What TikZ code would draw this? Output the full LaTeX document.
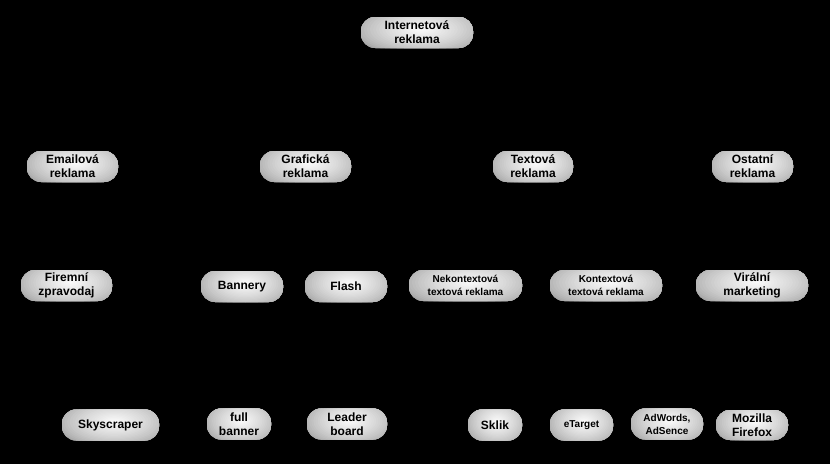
\documentclass[tikz,border=0pt]{standalone}
\usepackage{fontspec}
\setmainfont{Liberation Sans}
\usetikzlibrary{positioning, calc}

\tikzset{
  pill/.style={rounded corners=14pt, minimum height=31pt, inner sep=0pt,
    align=center, font=\bfseries\fontsize{12}{14}\selectfont,
    fill=white!18!gray,
    path picture={
      % radial light spot, drawn as nested ellipses
      \foreach \k in {0,...,23} {
        \pgfmathsetmacro\lite{18+77*(\k/23)^0.6}
        \pgfmathsetmacro\rf{1-\k/24}
        \fill[white!\lite!gray]
          let \p1=($(path picture bounding box.north east)-(path picture bounding box.center)$) in
          ($(path picture bounding box.center)+(0.08*\x1,0.2*\y1)$)
          ellipse [x radius={1.3*\rf*\x1}, y radius={1.8*\rf*\y1}];
      }
    }},
  pillsmall/.style={pill, font=\bfseries\fontsize{10}{13}\selectfont}
}

\begin{document}
\begin{tikzpicture}[x=1pt, y=1pt]
  % Background
  \fill[black] (0,0) rectangle (830,-464);
  \useasboundingbox (0,0) rectangle (830,-464);
  % Root
  \node[pill, minimum width=112pt] (inet) at (417,-32.5) {Internetová\\reklama};
  % Level 1
  \node[pill, minimum width=91pt] (email) at (72.5,-166.5) {Emailová\\reklama};
  \node[pill, minimum width=91pt] (graf) at (305.5,-166.5) {Grafická\\reklama};
  \node[pill, minimum width=80pt] (text) at (533,-166.5) {Textová\\reklama};
  \node[pill, minimum width=81pt] (ostat) at (752.5,-166.5) {Ostatní\\reklama};
  % Level 2
  \node[pill, minimum width=91pt] (firem) at (66.5,-285.5) {Firemní\\zpravodaj};
  \node[pill, minimum width=82pt] (bann) at (242,-286.5) {Bannery};
  \node[pill, minimum width=82pt] (flash) at (346,-286.5) {Flash};
  \node[pillsmall, minimum width=113pt] (nekont) at (465.5,-285.5) {Nekontextová\\textová reklama};
  \node[pillsmall, minimum width=112pt] (kont) at (606,-285.5) {Kontextová\\textová reklama};
  \node[pill, minimum width=112pt] (viral) at (752,-285.5) {Virální\\marketing};
  % Level 3
  \node[pill, minimum width=97pt] (sky) at (110.5,-425) {Skyscraper};
  \node[pill, minimum width=64pt] (full) at (239,-424) {full\\banner};
  \node[pill, minimum width=80pt] (leader) at (347,-424) {Leader\\board};
  \node[pill, minimum width=54pt] (sklik) at (495,-425) {Sklik};
  \node[pillsmall, minimum width=63pt] (etarget) at (581.5,-425) {eTarget};
  \node[pillsmall, minimum width=72pt] (adw) at (667,-424) {AdWords,\\AdSence};
  \node[pill, minimum width=72pt, minimum height=30pt] (moz) at (752,-425) {Mozilla\\Firefox};
\end{tikzpicture}
\end{document}
